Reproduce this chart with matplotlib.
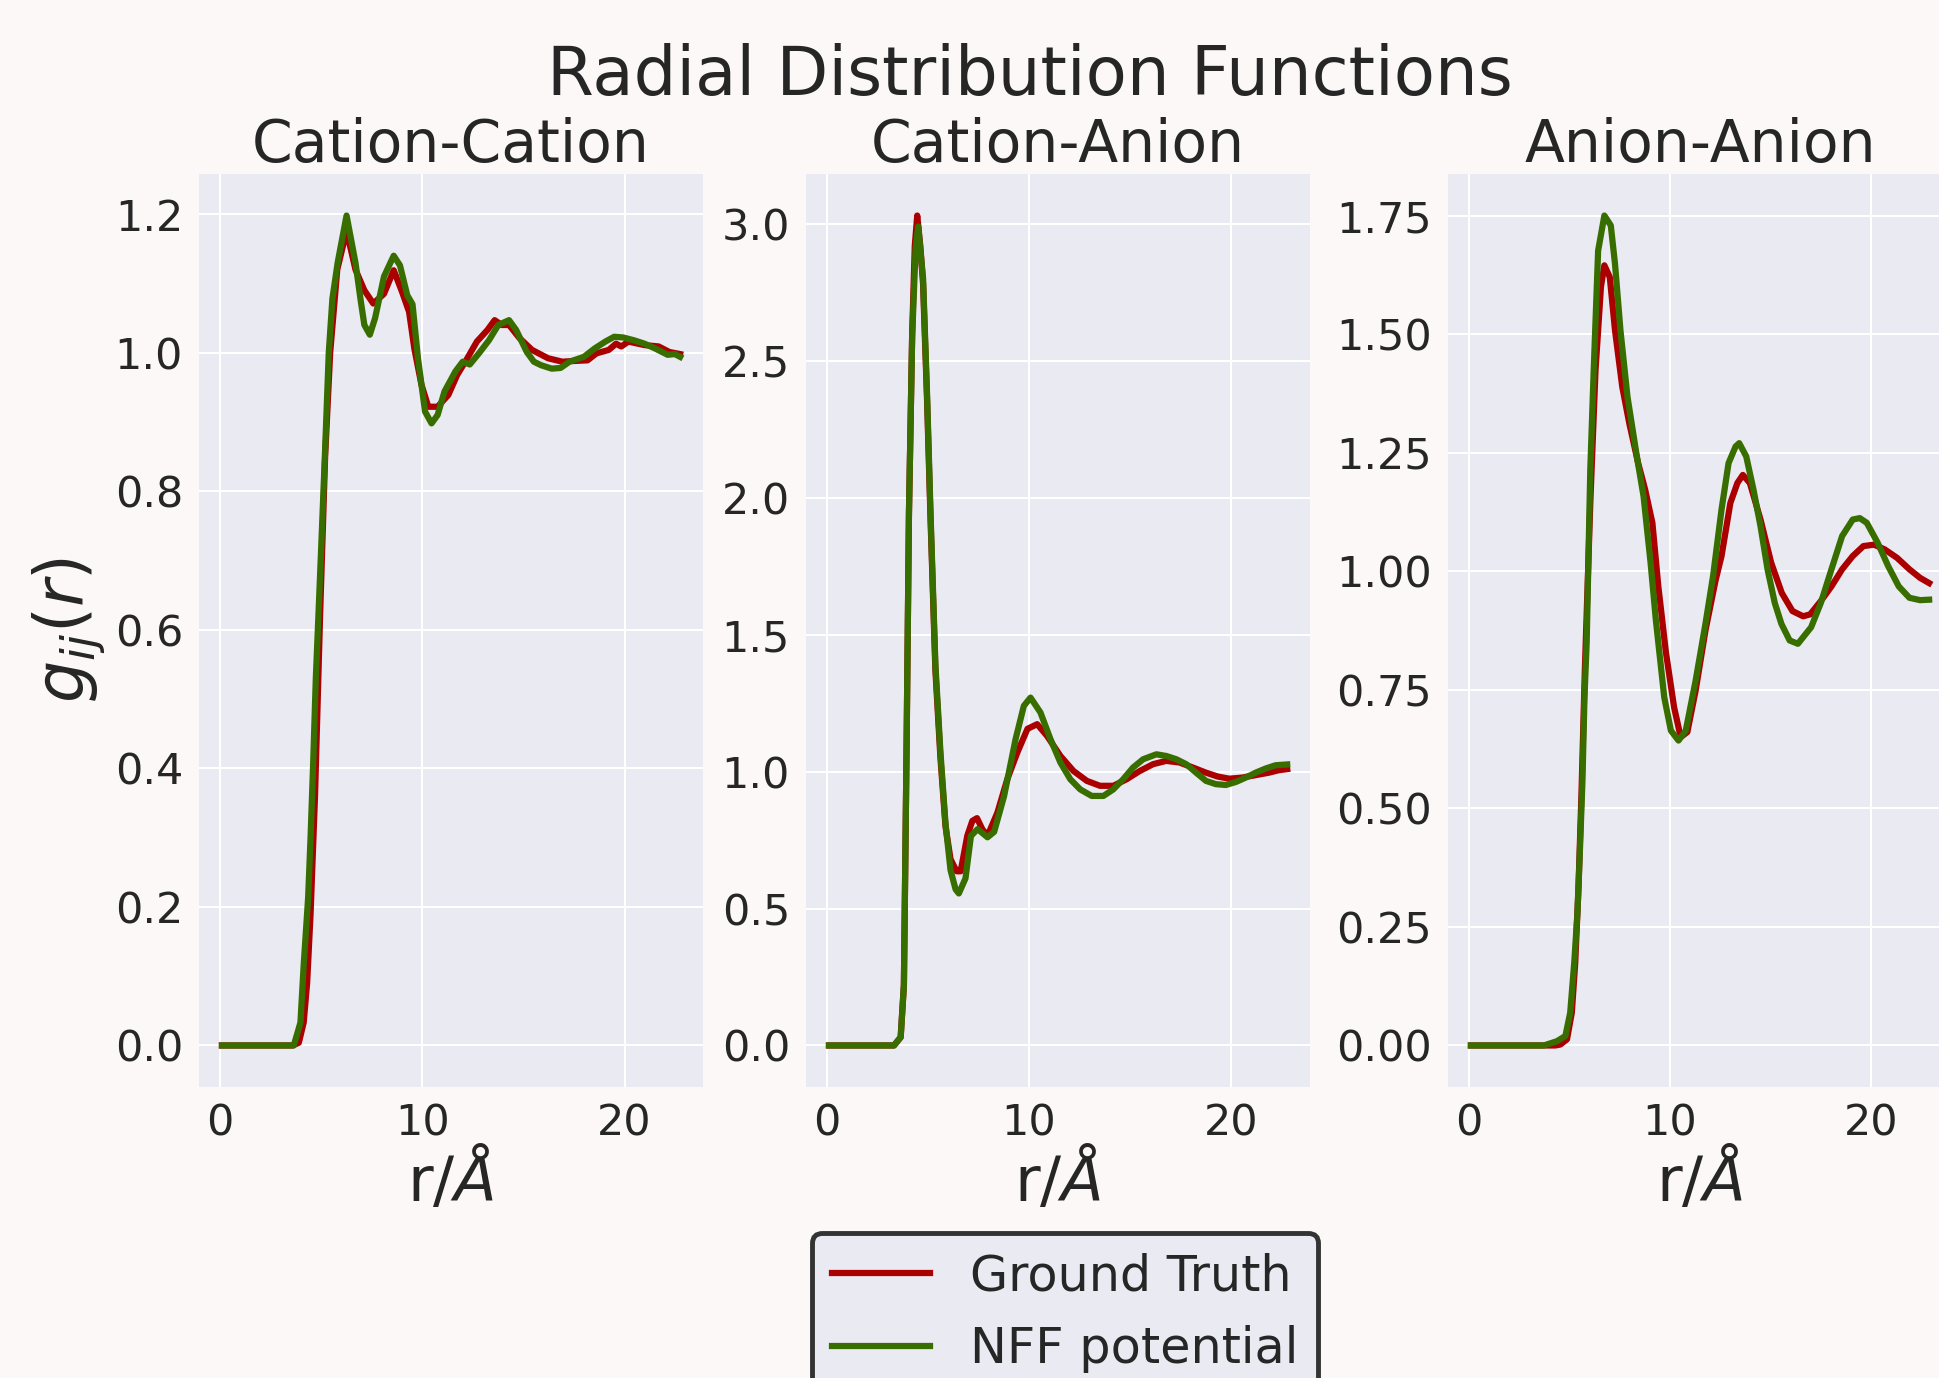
import matplotlib
matplotlib.use('Agg')
import matplotlib.pyplot as plt
from matplotlib.ticker import MultipleLocator

# --- data ---
titles = ['Cation-Cation', 'Cation-Anion', 'Anion-Anion']
labels = ['Ground Truth', 'NFF potential']

cc_gt_r = [0.1, 3.6, 3.9, 4.14, 4.31, 4.48, 4.7, 4.95, 5.2, 5.45, 5.8, 6.26, 6.7, 7.14, 7.58,
           8.11, 8.59, 9.0, 9.35, 9.61, 9.96, 10.3, 10.76, 11.29, 11.73, 12.17, 12.7, 13.23,
           13.58, 13.93, 14.29, 14.81, 15.43, 16.22, 16.93, 17.46, 18.17, 18.61, 19.22, 19.58,
           19.84, 20.19, 20.99, 21.69, 22.22, 22.75]
cc_gt_g = [0, 0, 0.004, 0.033, 0.09, 0.19, 0.36, 0.62, 0.85, 1.0, 1.12, 1.176, 1.12, 1.09, 1.071,
           1.085, 1.119, 1.088, 1.059, 1.006, 0.954, 0.922, 0.922, 0.939, 0.968, 0.989, 1.016, 1.033,
           1.047, 1.04, 1.04, 1.021, 1.004, 0.992, 0.987, 0.988, 0.989, 0.999, 1.004, 1.013,
           1.009, 1.016, 1.011, 1.009, 1.001, 0.998]
cc_nff_r = [0.1, 3.65, 3.98, 4.14, 4.36, 4.48, 4.61, 4.74, 4.84, 4.98, 5.2, 5.38, 5.56, 5.82, 6.26,
            6.7, 6.97, 7.14, 7.41, 7.67, 8.11, 8.59, 8.9, 9.26, 9.52, 9.79, 10.14, 10.46, 10.76,
            11.1, 11.64, 12.0, 12.35, 12.8, 13.3, 13.76, 14.29, 14.64, 15.17, 15.52, 15.87, 16.4,
            16.84, 17.28, 17.99, 18.52, 19.05, 19.49, 19.93, 20.46, 20.99, 21.52, 22.13, 22.49, 22.75]
cc_nff_g = [0, 0, 0.033, 0.116, 0.213, 0.30, 0.408, 0.53, 0.60, 0.70, 0.86, 1.0, 1.078, 1.13, 1.198,
            1.13, 1.073, 1.04, 1.026, 1.05, 1.11, 1.14, 1.126, 1.083, 1.07, 0.992, 0.915, 0.898, 0.91,
            0.944, 0.973, 0.987, 0.983, 0.999, 1.018, 1.04, 1.047, 1.033, 1.001, 0.987, 0.982, 0.977,
            0.978, 0.987, 0.994, 1.006, 1.016, 1.023, 1.022, 1.018, 1.013, 1.006, 0.997, 0.998, 0.994]

ca_gt_r = [0.1, 3.32, 3.65, 3.81, 3.94, 4.06, 4.22, 4.35, 4.47, 4.62, 4.76, 4.96, 5.13, 5.37, 5.62,
           5.87, 6.12, 6.42, 6.62, 6.95, 7.2, 7.43, 7.69, 7.95, 8.44, 8.93, 9.43, 9.93, 10.41, 10.9,
           11.56, 12.21, 12.87, 13.52, 14.18, 14.84, 15.49, 16.15, 16.8, 17.46, 18.11, 18.77, 19.34,
           19.92, 20.57, 21.23, 21.89, 22.38, 22.79]
ca_gt_g = [0, 0, 0.03, 0.22, 1.07, 1.94, 2.6, 2.92, 3.03, 2.92, 2.78, 2.35, 1.92, 1.37, 1.05,
           0.80, 0.68, 0.636, 0.636, 0.766, 0.82, 0.83, 0.79, 0.765, 0.85, 0.972, 1.07, 1.156, 1.173, 1.13,
           1.057, 1.002, 0.966, 0.948, 0.948, 0.972, 1.002, 1.027, 1.039, 1.033, 1.015, 0.996, 0.982,
           0.974, 0.978, 0.987, 0.996, 1.005, 1.009]
ca_nff_r = [0.1, 3.32, 3.65, 3.81, 3.94, 4.06, 4.22, 4.39, 4.52, 4.76, 4.96, 5.13, 5.37, 5.62, 5.87,
            6.12, 6.37, 6.53, 6.86, 7.13, 7.46, 7.95, 8.28, 8.77, 9.34, 9.75, 10.08, 10.57, 11.07,
            11.56, 12.05, 12.54, 13.11, 13.69, 14.18, 14.67, 15.16, 15.66, 16.31, 16.8, 17.3, 17.79,
            18.28, 18.77, 19.26, 19.75, 20.25, 20.74, 21.23, 21.72, 22.21, 22.79]
ca_nff_g = [0, 0, 0.03, 0.22, 1.07, 1.94, 2.59, 2.91, 2.99, 2.80, 2.37, 1.94, 1.39, 1.07, 0.81,
            0.64, 0.57, 0.555, 0.61, 0.765, 0.79, 0.76, 0.78, 0.91, 1.118, 1.24, 1.27, 1.216, 1.118,
            1.033, 0.972, 0.935, 0.911, 0.911, 0.935, 0.972, 1.015, 1.045, 1.063, 1.057, 1.045, 1.027,
            0.996, 0.966, 0.954, 0.951, 0.962, 0.978, 0.996, 1.011, 1.023, 1.026]

aa_gt_r = [0.1, 4.3, 4.55, 4.88, 5.12, 5.29, 5.45, 5.6, 5.77, 6.04, 6.3, 6.57, 6.74, 7.01, 7.27,
           7.63, 7.98, 8.42, 8.77, 9.13, 9.42, 9.8, 10.21, 10.54, 10.87, 11.28, 11.77, 12.27, 12.57,
           13.01, 13.36, 13.63, 13.98, 14.51, 15.04, 15.57, 16.1, 16.63, 16.98, 17.51, 18.04, 18.57,
           19.1, 19.63, 20.16, 20.69, 21.31, 21.92, 22.45, 22.9]
aa_gt_g = [0, 0, 0.002, 0.013, 0.069, 0.174, 0.33, 0.53, 0.793, 1.144, 1.424, 1.6, 1.645, 1.62, 1.508,
           1.389, 1.312, 1.228, 1.172, 1.102, 0.97, 0.83, 0.713, 0.65, 0.661, 0.748, 0.875, 0.98, 1.032,
           1.144, 1.186, 1.203, 1.186, 1.109, 1.018, 0.954, 0.916, 0.905, 0.909, 0.937, 0.968, 1.004,
           1.032, 1.053, 1.056, 1.046, 1.028, 1.004, 0.986, 0.975]
aa_nff_r = [0.1, 3.73, 4.38, 4.8, 5.04, 5.24, 5.4, 5.53, 5.65, 5.75, 5.86, 6.04, 6.21, 6.43, 6.74,
            7.06, 7.27, 7.54, 7.89, 8.33, 8.69, 9.04, 9.3, 9.5, 9.72, 10.05, 10.43, 10.79, 11.28,
            11.77, 12.15, 12.57, 12.92, 13.27, 13.45, 13.8, 14.16, 14.51, 14.86, 15.22, 15.55, 15.96,
            16.37, 17.03, 17.51, 18.04, 18.57, 19.1, 19.45, 19.8, 20.34, 20.86, 21.39, 21.92, 22.45, 22.9]
aa_nff_g = [0, 0, 0.009, 0.02, 0.069, 0.174, 0.279, 0.419, 0.559, 0.734, 0.85, 1.214, 1.424, 1.676, 1.75,
            1.729, 1.648, 1.508, 1.368, 1.249, 1.158, 1.018, 0.898, 0.82, 0.734, 0.664, 0.643, 0.664, 0.769,
            0.889, 0.99, 1.13, 1.228, 1.263, 1.27, 1.242, 1.172, 1.095, 1.004, 0.933, 0.889, 0.854,
            0.847, 0.882, 0.933, 1.004, 1.074, 1.109, 1.112, 1.102, 1.06, 1.011, 0.968, 0.944, 0.939, 0.94]

gt_color = '#aa0000'
nff_color = '#386e00'
ytick_steps = [0.2, 0.5, 0.25]
text_color = '#262626'

plt.rcParams['font.family'] = 'DejaVu Sans'
plt.rcParams['mathtext.fontset'] = 'dejavusans'
plt.rcParams['text.color'] = text_color
plt.rcParams['axes.labelcolor'] = text_color
plt.rcParams['xtick.color'] = text_color
plt.rcParams['ytick.color'] = text_color

fig = plt.figure(figsize=(19.4, 13.78), dpi=100, facecolor='#fcf8f8')

lefts = [0.1026, 0.4155, 0.7464]
series = [(cc_gt_r, cc_gt_g, cc_nff_r, cc_nff_g),
          (ca_gt_r, ca_gt_g, ca_nff_r, ca_nff_g),
          (aa_gt_r, aa_gt_g, aa_nff_r, aa_nff_g)]

axes = []
for i, (l, s) in enumerate(zip(lefts, series)):
    ax = fig.add_axes([l, 0.2112, 0.2598, 0.6625], facecolor='#eaeaf2')
    ax.plot(s[0], s[1], color=gt_color, lw=4.5, label=labels[0])
    ax.plot(s[2], s[3], color=nff_color, lw=4.5, label=labels[1])
    ax.grid(True, color='white', lw=1.5)
    ax.set_axisbelow(True)
    for sp in ax.spines.values():
        sp.set_visible(False)
    ax.xaxis.set_major_locator(MultipleLocator(10))
    ax.yaxis.set_major_locator(MultipleLocator(ytick_steps[i]))
    ax.tick_params(length=0, pad=11.5, labelsize=31)
    ax.set_title(titles[i], fontsize=42, pad=7)
    ax.set_xlabel(r'r/$Å$', fontsize=45, labelpad=1)
    axes.append(ax)

axes[0].set_ylabel(r'$g_{ij}(r)$', fontsize=48, labelpad=5)

fig.suptitle('Radial Distribution Functions', x=0.531, y=0.945, va='center', fontsize=48.5)

handles, labs = axes[0].get_legend_handles_labels()
leg = fig.legend(handles, labs, loc='upper center', bbox_to_anchor=(0.549, 1 - 1233 / 1378),
                 borderaxespad=0, fontsize=35.5, facecolor='#eaeaf2', edgecolor='#333333',
                 framealpha=1, fancybox=True)
leg.get_frame().set_linewidth(3.5)

fig.savefig('out.png', dpi=100, facecolor=fig.get_facecolor())
